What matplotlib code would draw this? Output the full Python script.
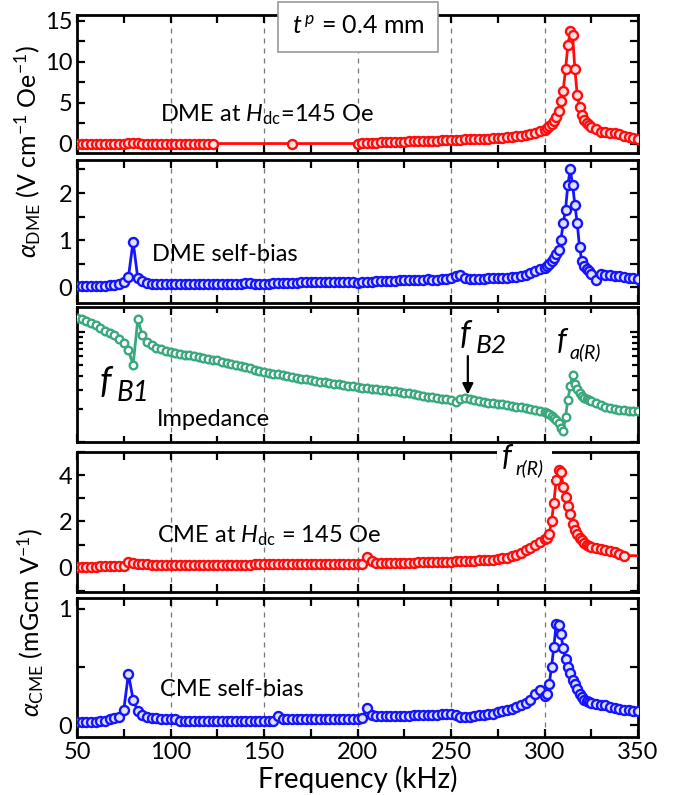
import numpy as np
import matplotlib
matplotlib.use("Agg")
import matplotlib.pyplot as plt
from matplotlib.patches import Rectangle
from matplotlib.ticker import MultipleLocator, LogLocator, NullFormatter

plt.rcParams['font.family'] = ['Lato', 'DejaVu Sans']
plt.rcParams['mathtext.fontset'] = 'custom'
plt.rcParams['mathtext.rm'] = 'Lato'
plt.rcParams['mathtext.it'] = 'Lato:italic'
plt.rcParams['mathtext.bf'] = 'Lato:bold'

nan = np.nan

# frequency samples (kHz): 2.5 kHz steps, finer around the resonance
freq = np.concatenate([np.arange(50, 300, 2.5), np.arange(300, 325, 1.25), np.arange(325, 350.1, 2.5)])

# DME at Hdc = 145 Oe (V cm-1 Oe-1)
dme_hdc = [
    0.05, 0.05, 0.05, 0.05, 0.05, 0.05, 0.05, 0.05, 0.05, 0.05,   # 50
    0.05, 0.06, 0.1, 0.06, 0.05, 0.05, 0.05, 0.05, 0.05, 0.05,    # 75
    0.05, 0.05, 0.05, 0.05, 0.05, 0.05, 0.05, 0.05, 0.05, 0.05,   # 100
    nan, nan, nan, nan, nan, nan, nan, nan, nan, nan,             # 125
    nan, nan, nan, nan, nan, nan, 0.05, nan, nan, nan,            # 150
    nan, nan, nan, nan, nan, nan, nan, nan, nan, nan,             # 175
    0.05, 0.1, 0.12, 0.14, 0.16, 0.18, 0.2, 0.22, 0.24, 0.26,     # 200
    0.28, 0.3, 0.32, 0.34, 0.36, 0.38, 0.4, 0.42, 0.45, 0.48,     # 225
    0.5, 0.52, 0.54, 0.56, 0.58, 0.6, 0.62, 0.64, 0.66, 0.69,     # 250
    0.72, 0.76, 0.8, 0.86, 0.93, 1.0, 1.1, 1.22, 1.38, 1.55,      # 275
    1.75, 1.95, 2.15, 2.4, 2.8, 3.3, 4.0, 5.2, 6.5, 9.1,          # 300
    12.0, 13.7, 13.3, 9.1, 6.0, 4.5, 3.5, 2.9, 2.5, 2.25,         # 312.5
    2.1, 1.8, 1.5, 1.4, 1.35, 1.3, 1.2, 1.0, 0.85, 0.7, 0.6,      # 325
]

# DME self-bias
dme_self = [
    0.03, 0.03, 0.03, 0.03, 0.04, 0.04, 0.04, 0.05, 0.06, 0.08,
    0.12, 0.22, 0.97, 0.2, 0.13, 0.1, 0.08, 0.08, 0.08, 0.08,
    0.07, 0.07, 0.07, 0.07, 0.07, 0.07, 0.07, 0.07, 0.07, 0.07,
    0.07, 0.07, 0.08, 0.08, 0.08, 0.08, 0.09, 0.09, 0.08, 0.08,
    0.08, 0.08, 0.09, 0.09, 0.1, 0.1, 0.1, 0.1, 0.11, 0.11,
    0.11, 0.12, 0.11, 0.12, 0.12, 0.12, 0.11, 0.12, 0.12, 0.12,
    0.1, 0.11, 0.12, 0.12, 0.13, 0.13, 0.13, 0.14, 0.14, 0.15,
    0.15, 0.15, 0.16, 0.16, 0.16, 0.17, 0.16, 0.15, 0.17, 0.18,
    0.2, 0.25, 0.26, 0.2, 0.17, 0.17, 0.18, 0.18, 0.19, 0.19,
    0.19, 0.2, 0.21, 0.22, 0.23, 0.25, 0.27, 0.3, 0.34, 0.38,
    0.42, 0.45, 0.5, 0.55, 0.62, 0.7, 0.8, 1.0, 1.36, 1.65,
    2.18, 2.5, 2.18, 1.75, 1.36, 0.85, 0.55, 0.45, 0.4, 0.35,
    0.28, 0.16, 0.28, 0.27, 0.27, 0.25, 0.24, 0.22, 0.2, 0.19, 0.17,
]

# impedance (arb. units, log axis)
impedance = [
    13.4, 13.0, 12.6, 12.1, 11.5, 10.9, 10.3, 9.86, 9.31, 8.68,
    7.87, 6.83, 5.0, 13.0, 9.3, 8.1, 7.6, 7.2, 6.95, 6.75,
    6.58, 6.45, 6.35, 6.24, 6.13, 6.03, 5.93, 5.81, 5.72, 5.62,
    5.53, 5.39, 5.27, 5.13, 5.0, 4.89, 4.77, 4.66, 4.55, 4.44,
    4.33, 4.26, 4.19, 4.11, 4.04, 3.97, 3.90, 3.84, 3.77, 3.70,
    3.64, 3.59, 3.54, 3.49, 3.44, 3.39, 3.34, 3.30, 3.25, 3.20,
    3.16, 3.12, 3.09, 3.04, 3.01, 2.98, 2.94, 2.91, 2.88, 2.84,
    2.81, 2.76, 2.72, 2.67, 2.64, 2.59, 2.55, 2.51, 2.47, 2.44,
    2.39, 2.33, 2.44, 2.50, 2.44, 2.40, 2.37, 2.32, 2.28, 2.26,
    2.23, 2.20, 2.17, 2.13, 2.10, 2.06, 2.02, 1.98, 1.94, 1.90,
    1.87, 1.83, 1.78, 1.72, 1.65, 1.57, 1.48, 1.35, 1.25, 1.7,
    2.43, 3.2, 4.04, 3.4, 3.06, 2.8, 2.62, 2.52, 2.45, 2.4,
    2.35, 2.25, 2.17, 2.1, 2.05, 2.0, 1.97, 1.95, 1.93, 1.91, 1.9,
]

# CME at Hdc = 145 Oe (mGcm V-1)
cme_hdc = [
    0.05, 0.05, 0.05, 0.05, 0.05, 0.06, 0.06, 0.06, 0.06, 0.07,
    0.08, 0.26, 0.2, 0.17, 0.15, 0.14, 0.13, 0.12, 0.12, 0.12,
    0.12, 0.12, 0.12, 0.12, 0.12, 0.12, 0.12, 0.12, 0.12, 0.12,
    0.12, 0.12, 0.13, 0.13, 0.13, 0.13, 0.13, 0.13, 0.14, 0.14,
    0.14, 0.14, 0.14, 0.14, 0.14, 0.14, 0.14, 0.14, 0.14, 0.14,
    0.14, 0.14, 0.15, 0.15, 0.15, 0.15, 0.15, 0.15, 0.15, 0.15,
    0.15, 0.16, 0.45, 0.3, 0.22, 0.2, 0.2, 0.2, 0.2, 0.21,
    0.21, 0.22, 0.22, 0.23, 0.23, 0.24, 0.24, 0.25, 0.25, 0.26,
    0.26, 0.27, 0.28, 0.29, 0.3, 0.31, 0.32, 0.33, 0.34, 0.35,
    0.37, 0.4, 0.44, 0.5, 0.57, 0.65, 0.75, 0.85, 0.97, 1.1,
    1.22, 1.3, 1.45, 2.0, 2.8, 3.8, 4.21, 4.15, 3.5, 3.05,
    2.65, 2.3, 1.9, 1.65, 1.45, 1.3, 1.18, 1.06, 1.0, 0.95,
    0.9, 0.85, 0.8, 0.76, 0.72, 0.68, 0.6, 0.52, 0.52, 0.52, 0.52,
]

# CME self-bias
cme_self = [
    0.03, 0.03, 0.03, 0.03, 0.03, 0.04, 0.04, 0.05, 0.06, 0.07,
    0.13, 0.44, 0.22, 0.12, 0.09, 0.07, 0.06, 0.06, 0.05, 0.05,
    0.05, 0.05, 0.04, 0.04, 0.04, 0.04, 0.04, 0.04, 0.04, 0.04,
    0.04, 0.04, 0.04, 0.04, 0.04, 0.04, 0.04, 0.04, 0.04, 0.04,
    0.04, 0.04, 0.04, 0.08, 0.05, 0.05, 0.05, 0.05, 0.05, 0.05,
    0.05, 0.05, 0.05, 0.05, 0.05, 0.05, 0.05, 0.05, 0.05, 0.05,
    0.05, 0.06, 0.15, 0.09, 0.08, 0.08, 0.08, 0.08, 0.08, 0.08,
    0.08, 0.08, 0.085, 0.085, 0.09, 0.09, 0.09, 0.09, 0.1, 0.1,
    0.1, 0.09, 0.075, 0.07, 0.075, 0.08, 0.085, 0.09, 0.095, 0.1,
    0.11, 0.12, 0.13, 0.14, 0.155, 0.17, 0.19, 0.22, 0.27, 0.3,
    0.25, 0.27, 0.35, 0.5, 0.67, 0.87, 0.86, 0.78, 0.66, 0.57,
    0.5, 0.45, 0.39, 0.35, 0.31, 0.27, 0.24, 0.22, 0.21, 0.2,
    0.19, 0.18, 0.17, 0.17, 0.16, 0.15, 0.14, 0.13, 0.13, 0.12, 0.12,
]

RED, BLUE, GREEN = '#ff0d0d', '#1414ff', '#3aa87c'
FS = 17

fig = plt.figure(figsize=(6.79, 7.95), dpi=100)
L, W = 77 / 679, 561 / 679
boxes = [(15, 153), (160, 303), (307, 442), (452, 592), (598, 737)]
axes = [fig.add_axes([L, 1 - b / 795, W, (b - t) / 795]) for t, b in boxes]

series = [(dme_hdc, RED, '#ffe0e0', 6.5), (dme_self, BLUE, '#e0e0ff', 6.5), (impedance, GREEN, '#ffffff', 5.5),
          (cme_hdc, RED, '#ffe0e0', 6.5), (cme_self, BLUE, '#e0e0ff', 6.5)]

for i, (ax, (vals, c, fc, ms)) in enumerate(zip(axes, series)):
    v = np.array(vals, dtype=float)
    m = np.isfinite(v)
    ax.plot(freq[m], v[m], '-', color=c, lw=2, zorder=3)
    mk = m & (freq <= 343) if i == 3 else m
    ax.plot(freq[mk], v[mk], 'o', ms=ms, mfc=fc, mec=c, mew=1.7, zorder=4)
    for xv in [100, 150, 200, 250, 300]:
        ax.axvline(xv, color='#777777', lw=0.9, ls=(0, (4, 4)), zorder=1)
    ax.set_xlim(50, 350)
    ax.xaxis.set_major_locator(MultipleLocator(50))
    ax.xaxis.set_minor_locator(MultipleLocator(25))
    ax.tick_params(which='both', direction='in', top=True, right=True, width=1.6, labelsize=FS)
    ax.tick_params(which='major', length=6)
    ax.tick_params(which='minor', length=6)
    for s in ax.spines.values():
        s.set_linewidth(2)
    if i < 4:
        ax.tick_params(labelbottom=False)

ax1, ax2, ax3, ax4, ax5 = axes
ax1.set_ylim(-1.1, 15.7)
ax1.yaxis.set_major_locator(MultipleLocator(5))
ax1.yaxis.set_minor_locator(MultipleLocator(2.5))
ax2.set_ylim(-0.33, 2.7)
ax2.yaxis.set_major_locator(MultipleLocator(1))
ax2.yaxis.set_minor_locator(MultipleLocator(0.5))
ax3.set_yscale('log')
ax3.set_ylim(1, 10 ** 1.227)
ax3.yaxis.set_major_locator(LogLocator(base=10))
ax3.yaxis.set_minor_locator(LogLocator(base=10, subs=np.arange(2, 10)))
ax3.yaxis.set_major_formatter(NullFormatter())
ax3.yaxis.set_minor_formatter(NullFormatter())
ax3.tick_params(which='minor', length=4)
ax4.set_ylim(-1.05, 5)
ax4.yaxis.set_major_locator(MultipleLocator(2))
ax4.yaxis.set_minor_locator(MultipleLocator(1))
ax5.set_ylim(-0.1, 1.09)
ax5.yaxis.set_major_locator(MultipleLocator(1))
ax5.yaxis.set_minor_locator(MultipleLocator(0.5))
ax5.set_xlabel('Frequency (kHz)', fontsize=20, labelpad=2)

# panel labels
ax1.text(0.148, 0.28, r'DME at $H_{\rm dc}$=145 Oe', transform=ax1.transAxes, fontsize=FS, va='center')
ax2.text(0.134, 0.336, 'DME self-bias', transform=ax2.transAxes, fontsize=FS, va='center')
ax3.text(0.143, 0.163, 'Impedance', transform=ax3.transAxes, fontsize=FS, va='center')
ax4.text(0.143, 0.40, r'CME at $H_{\rm dc}$ = 145 Oe', transform=ax4.transAxes, fontsize=FS, va='center')
ax5.text(0.148, 0.345, 'CME self-bias', transform=ax5.transAxes, fontsize=FS, va='center')

# resonance labels (big italic f with nearly full-size subscripts)
ax3.text(62, 3.5, 'f', style='italic', fontsize=26, va='center')
ax3.text(71, 2.8, 'B1', style='italic', fontsize=20, va='center')
ax3.text(254.5, 9.3, 'f', style='italic', fontsize=24, va='center')
ax3.text(263, 7.5, 'B2', style='italic', fontsize=19, va='center')
ax3.annotate('', xy=(259, 2.55), xytext=(259, 6.4),
             arrowprops=dict(arrowstyle='-|>', color='black', lw=1.6, mutation_scale=16))
ax3.text(306.5, 8.2, 'f', style='italic', fontsize=22, va='center')
ax3.text(313.5, 6.5, 'a(R)', style='italic', fontsize=14, va='center')

fig.patches.append(Rectangle((497 / 679, 1 - 479 / 795), 55 / 679, 33 / 795, transform=fig.transFigure,
                             fc='white', ec='none', zorder=5))
fig.text(502 / 679, 1 - 457 / 795, 'f', style='italic', fontsize=22, va='center', zorder=6)
fig.text(515 / 679, 1 - 468 / 795, 'r(R)', style='italic', fontsize=14, va='center', zorder=6)

# y labels
fig.text(28 / 679, 1 - 152 / 795, r'$\alpha_{\rm DME}$ (V cm$^{-1}$ Oe$^{-1}$)', rotation=90,
         fontsize=18, ha='center', va='center')
fig.text(31 / 679, 1 - 622 / 795, r'$\alpha_{\rm CME}$ (mGcm V$^{-1}$)', rotation=90,
         fontsize=18, ha='center', va='center')

# thickness box
fig.text(358 / 679, 1 - 27 / 795, r'$t^{\,p}$ = 0.4 mm', fontsize=18, ha='center', va='center', zorder=10,
         bbox=dict(boxstyle='square,pad=0.55', fc='white', ec='#999999', lw=1.2))

fig.savefig('out.png', dpi=100)
